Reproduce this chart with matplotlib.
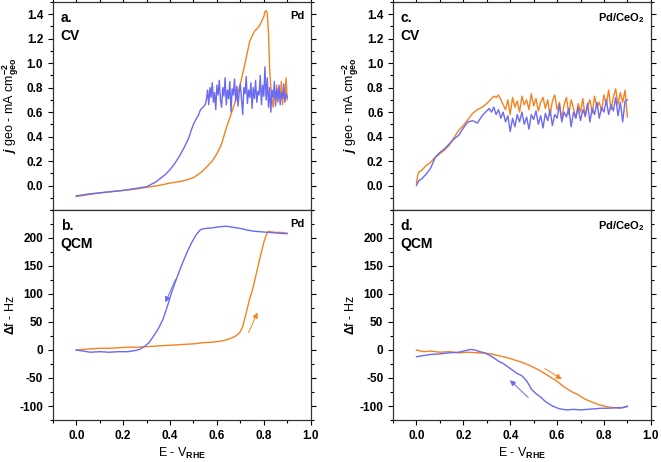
import matplotlib
matplotlib.use("Agg")
import matplotlib.pyplot as plt
from matplotlib.ticker import MultipleLocator

plt.rcParams['font.family'] = ['Liberation Sans', 'DejaVu Sans']
plt.rcParams['font.weight'] = 'bold'
plt.rcParams['mathtext.fontset'] = 'custom'
plt.rcParams['mathtext.rm'] = 'Liberation Sans:bold'
plt.rcParams['mathtext.it'] = 'Liberation Sans:italic:bold'
plt.rcParams['mathtext.bf'] = 'Liberation Sans:bold'

BLUE = '#6A6AF2'
ORANGE = '#F5821F'

# ---- panel a: CV on Pd ----
a_or_E = [0.00, 0.05, 0.10, 0.15, 0.20, 0.25, 0.30, 0.35, 0.40, 0.45, 0.47, 0.50, 0.52, 0.54,
          0.56, 0.58, 0.60, 0.62, 0.64, 0.66, 0.68, 0.70, 0.72, 0.74, 0.76, 0.77, 0.78, 0.79,
          0.80, 0.805, 0.81, 0.815, 0.82, 0.825, 0.83, 0.835, 0.84, 0.845, 0.85, 0.855, 0.86,
          0.865, 0.87, 0.875, 0.88, 0.885, 0.89, 0.895, 0.90]
a_or_j = [-0.09, -0.075, -0.06, -0.05, -0.04, -0.03, -0.015, 0.0, 0.02, 0.035, 0.045, 0.065, 0.09, 0.12,
          0.16, 0.20, 0.26, 0.34, 0.47, 0.58, 0.70, 0.83, 1.00, 1.18, 1.26, 1.28, 1.30, 1.34,
          1.38, 1.42, 1.43, 1.40, 1.25, 0.95, 0.80, 0.70, 0.64, 0.78, 0.70, 0.82, 0.68,
          0.76, 0.72, 0.85, 0.66, 0.79, 0.71, 0.88, 0.70]

a_bl_E = [0.00, 0.05, 0.10, 0.15, 0.20, 0.25, 0.30, 0.32, 0.34, 0.36, 0.38, 0.40, 0.42, 0.44,
          0.46, 0.47, 0.48, 0.49, 0.50, 0.51, 0.52, 0.53, 0.54, 0.55,
          0.555, 0.56, 0.565, 0.57, 0.575, 0.58, 0.585, 0.59, 0.595, 0.60,
          0.605, 0.61, 0.615, 0.62, 0.625, 0.63, 0.635, 0.64, 0.645, 0.65,
          0.655, 0.66, 0.665, 0.67, 0.675, 0.68, 0.685, 0.69, 0.695, 0.70,
          0.705, 0.71, 0.715, 0.72, 0.725, 0.73, 0.735, 0.74, 0.745, 0.75,
          0.755, 0.76, 0.765, 0.77, 0.775, 0.78, 0.785, 0.79, 0.795, 0.80,
          0.805, 0.81, 0.815, 0.82, 0.825, 0.83, 0.835, 0.84, 0.845, 0.85,
          0.855, 0.86, 0.865, 0.87, 0.875, 0.88, 0.885, 0.89, 0.895, 0.90]
a_bl_j = [-0.085, -0.07, -0.06, -0.05, -0.04, -0.025, -0.01, 0.01, 0.03, 0.06, 0.09, 0.13, 0.18, 0.24,
          0.31, 0.35, 0.39, 0.45, 0.50, 0.54, 0.57, 0.62, 0.64, 0.66,
          0.70, 0.78, 0.66, 0.80, 0.72, 0.84, 0.68, 0.76, 0.62, 0.82,
          0.74, 0.86, 0.70, 0.64, 0.80, 0.73, 0.88, 0.66, 0.78, 0.71,
          0.85, 0.60, 0.79, 0.74, 0.87, 0.69, 0.81, 0.65, 0.76, 0.83,
          0.70, 0.58, 0.80, 0.75, 0.89, 0.67, 0.78, 0.72, 0.84, 0.63,
          0.80, 0.71, 0.86, 0.68, 0.77, 0.74, 0.90, 0.66, 0.82, 0.73,
          0.97, 0.70, 0.88, 0.64, 0.80, 0.60, 0.78, 0.72, 0.85, 0.65,
          0.79, 0.70, 0.82, 0.66, 0.76, 0.71, 0.83, 0.68, 0.75, 0.72]

# ---- panel b: QCM on Pd ----
b_or_E = [0.00, 0.03, 0.06, 0.10, 0.14, 0.18, 0.22, 0.26, 0.30, 0.34, 0.38, 0.42, 0.46, 0.50,
          0.54, 0.58, 0.62, 0.64, 0.66, 0.68, 0.69, 0.70, 0.71, 0.72, 0.73, 0.74, 0.75, 0.76,
          0.77, 0.78, 0.79, 0.80, 0.81, 0.82, 0.83, 0.85, 0.87, 0.89, 0.90]
b_or_f = [0, 1, 2, 3, 3, 4, 5, 5, 6, 7, 8, 9, 10, 11,
          13, 14, 16, 18, 21, 25, 28, 33, 42, 58, 75, 92, 105, 122,
          140, 158, 175, 192, 205, 212, 211, 210, 210, 209, 208]

b_bl_E = [0.00, 0.03, 0.06, 0.10, 0.14, 0.18, 0.22, 0.25, 0.27, 0.29, 0.31, 0.33, 0.35, 0.37,
          0.39, 0.41, 0.43, 0.45, 0.47, 0.49, 0.51, 0.53, 0.55, 0.58, 0.61, 0.64, 0.67, 0.70,
          0.73, 0.76, 0.79, 0.82, 0.85, 0.88, 0.90]
b_bl_f = [0, -2, -4, -3, -4, -3, -3, -1, 1, 6, 13, 25, 38, 55,
          80, 107, 130, 152, 172, 190, 205, 215, 217, 218, 220, 221, 219, 217,
          214, 212, 211, 210, 209, 208, 208]

# ---- panel c: CV on Pd/CeO2 ----
c_or_E = [0.00, 0.005, 0.01, 0.02, 0.03, 0.04, 0.06, 0.08, 0.10, 0.12, 0.14, 0.16, 0.18, 0.20,
          0.22, 0.24, 0.26, 0.28, 0.30,
          0.31, 0.32, 0.33, 0.34, 0.35, 0.36, 0.37, 0.38, 0.39, 0.40,
          0.41, 0.42, 0.43, 0.44, 0.45, 0.46, 0.47, 0.48, 0.49, 0.50,
          0.51, 0.52, 0.53, 0.54, 0.55, 0.56, 0.57, 0.58, 0.59, 0.60,
          0.61, 0.62, 0.63, 0.64, 0.65, 0.66, 0.67, 0.68, 0.69, 0.70,
          0.71, 0.72, 0.73, 0.74, 0.75, 0.76, 0.77, 0.78, 0.79, 0.80,
          0.81, 0.82, 0.83, 0.84, 0.85, 0.86, 0.87, 0.88, 0.89, 0.90]
c_or_j = [0.02, 0.08, 0.11, 0.12, 0.14, 0.16, 0.19, 0.23, 0.26, 0.29, 0.33, 0.39, 0.45, 0.49,
          0.54, 0.59, 0.62, 0.64, 0.67,
          0.69, 0.71, 0.73, 0.72, 0.74, 0.70, 0.66, 0.62, 0.70, 0.58,
          0.72, 0.64, 0.69, 0.60, 0.73, 0.66, 0.70, 0.62, 0.75, 0.65,
          0.71, 0.61, 0.68, 0.72, 0.63, 0.70, 0.57, 0.69, 0.74, 0.62,
          0.68, 0.54, 0.66, 0.72, 0.58, 0.70, 0.63, 0.55, 0.67, 0.60,
          0.71, 0.56, 0.65, 0.70, 0.59, 0.73, 0.64, 0.68, 0.61, 0.74,
          0.66, 0.78, 0.62, 0.72, 0.79, 0.66, 0.76, 0.68, 0.78, 0.56]

c_bl_E = c_or_E
c_bl_j = [0.00, 0.02, 0.04, 0.05, 0.07, 0.09, 0.14, 0.23, 0.27, 0.30, 0.34, 0.38, 0.41, 0.47,
          0.52, 0.53, 0.51, 0.57, 0.61,
          0.63, 0.60, 0.64, 0.58, 0.62, 0.55, 0.60, 0.52, 0.57, 0.44,
          0.55, 0.48, 0.58, 0.52, 0.60, 0.50, 0.56, 0.46, 0.58, 0.54,
          0.61, 0.50, 0.57, 0.47, 0.59, 0.53, 0.62, 0.49, 0.58, 0.55,
          0.66, 0.52, 0.60, 0.56, 0.63, 0.48, 0.60, 0.55, 0.64, 0.53,
          0.62, 0.57, 0.67, 0.52, 0.63, 0.58, 0.68, 0.55, 0.64, 0.60,
          0.70, 0.58, 0.66, 0.61, 0.72, 0.57, 0.68, 0.52, 0.69, 0.70]

# ---- panel d: QCM on Pd/CeO2 ----
d_or_E = [0.00, 0.03, 0.06, 0.10, 0.14, 0.18, 0.22, 0.26, 0.30, 0.33, 0.36, 0.39, 0.42, 0.45,
          0.48, 0.51, 0.54, 0.57, 0.60, 0.63, 0.66, 0.69, 0.72, 0.75, 0.78, 0.81, 0.84, 0.87, 0.90]
d_or_f = [0, -3, -2, -4, -3, -5, -4, -5, -6, -8, -11, -14, -18, -22,
          -27, -33, -40, -48, -56, -66, -74, -80, -88, -93, -98, -101, -103, -104, -100]

d_bl_E = [0.00, 0.03, 0.06, 0.10, 0.14, 0.18, 0.21, 0.23, 0.25, 0.27, 0.29, 0.31, 0.33, 0.35,
          0.37, 0.39, 0.41, 0.43, 0.45, 0.47, 0.48, 0.49, 0.51, 0.53, 0.55, 0.58, 0.61, 0.64,
          0.67, 0.70, 0.73, 0.76, 0.79, 0.82, 0.85, 0.88, 0.90]
d_bl_f = [-12, -10, -8, -7, -5, -4, -1, 1, 0, -3, -5, -9, -14, -20,
          -24, -30, -36, -42, -46, -55, -62, -70, -78, -84, -92, -100, -105, -107,
          -106, -107, -106, -105, -104, -104, -103, -103, -101]

# sweep-direction arrows: (tail E, tail y, head E, head y)
b_arrows = [(0.423, 126, 0.380, 85, BLUE), (0.735, 31, 0.773, 67, ORANGE)]
d_arrows = [(0.548, -33, 0.620, -52, ORANGE), (0.477, -85, 0.399, -54, BLUE)]

x_ticks = [0.0, 0.2, 0.4, 0.6, 0.8, 1.0]
cv_ticks = [0.0, 0.2, 0.4, 0.6, 0.8, 1.0, 1.2, 1.4]
qcm_ticks = [-100, -50, 0, 50, 100, 150, 200]

fig = plt.figure(figsize=(6.61, 4.62), dpi=100)
x_left = [0.080, 0.5946]
w = 0.390
ax_a = fig.add_axes([x_left[0], 0.5455, w, 0.4502])
ax_b = fig.add_axes([x_left[0], 0.0909, w, 0.4546])
ax_c = fig.add_axes([x_left[1], 0.5455, w, 0.4502])
ax_d = fig.add_axes([x_left[1], 0.0909, w, 0.4546])

cv_label = r"$\mathit{j}$ geo - mA cm$^{-2}_{\mathrm{geo}}$"
qcm_label = r"$\Delta$f - Hz"

for ax, E1, y1, E2, y2 in [(ax_a, a_or_E, a_or_j, a_bl_E, a_bl_j),
                           (ax_b, b_or_E, b_or_f, b_bl_E, b_bl_f),
                           (ax_c, c_or_E, c_or_j, c_bl_E, c_bl_j),
                           (ax_d, d_or_E, d_or_f, d_bl_E, d_bl_f)]:
    ax.plot(E1, y1, color=ORANGE, lw=1.0)
    ax.plot(E2, y2, color=BLUE, lw=1.0)
    ax.set_xlim(-0.1, 1.0)
    ax.set_xticks(x_ticks)
    ax.xaxis.set_minor_locator(MultipleLocator(0.1))
    ax.tick_params(which='both', direction='out', right=True, top=True, labelsize=8.5)
    ax.tick_params(which='major', length=3.5, width=0.8)
    ax.tick_params(which='minor', length=2, width=0.8)
    for s in ax.spines.values():
        s.set_linewidth(0.9)
        s.set_color('#333333')

for ax in (ax_a, ax_c):
    ax.set_ylim(-0.2, 1.5)
    ax.set_yticks(cv_ticks)
    ax.set_yticklabels([f"{v:.1f}" for v in cv_ticks])
    ax.yaxis.set_minor_locator(MultipleLocator(0.1))
    ax.tick_params(labelbottom=False)
    ax.set_ylabel(cv_label, fontsize=9)
    ax.yaxis.set_label_coords(-0.125, 0.5)

for ax in (ax_b, ax_d):
    ax.set_ylim(-125, 250)
    ax.set_yticks(qcm_ticks)
    ax.set_yticklabels([str(v) for v in qcm_ticks])
    ax.yaxis.set_minor_locator(MultipleLocator(25))
    ax.tick_params(which='both', top=False)
    ax.set_xticklabels([f"{v:.1f}" for v in x_ticks])
    ax.set_ylabel(qcm_label, fontsize=9)
    ax.yaxis.set_label_coords(-0.14, 0.5)
    ax.set_xlabel(r"E - V$_{\mathrm{RHE}}$", fontsize=9, labelpad=3)

for ax in (ax_a, ax_b, ax_c, ax_d):
    for lbl in ax.get_xticklabels() + ax.get_yticklabels():
        lbl.set_fontweight('bold')

for ax, arrows in [(ax_b, b_arrows), (ax_d, d_arrows)]:
    for e0, y0, e1, y1, col in arrows:
        ax.annotate('', xy=(e1, y1), xytext=(e0, y0),
                    arrowprops=dict(arrowstyle='-|>', color=col, lw=0.7, mutation_scale=8,
                                    shrinkA=0, shrinkB=0))

for ax, letter, kind, sample in [(ax_a, 'a.', 'CV', 'Pd'), (ax_b, 'b.', 'QCM', 'Pd'),
                                 (ax_c, 'c.', 'CV', r'Pd/CeO$_2$'),
                                 (ax_d, 'd.', 'QCM', r'Pd/CeO$_2$')]:
    ax.text(0.03, 0.955, letter, transform=ax.transAxes, fontsize=10, va='top', ha='left')
    ax.text(0.03, 0.87, kind, transform=ax.transAxes, fontsize=10, va='top', ha='left')
    ax.text(0.975, 0.955, sample, transform=ax.transAxes, fontsize=8, va='top', ha='right')

fig.savefig('out.png', dpi=100)
